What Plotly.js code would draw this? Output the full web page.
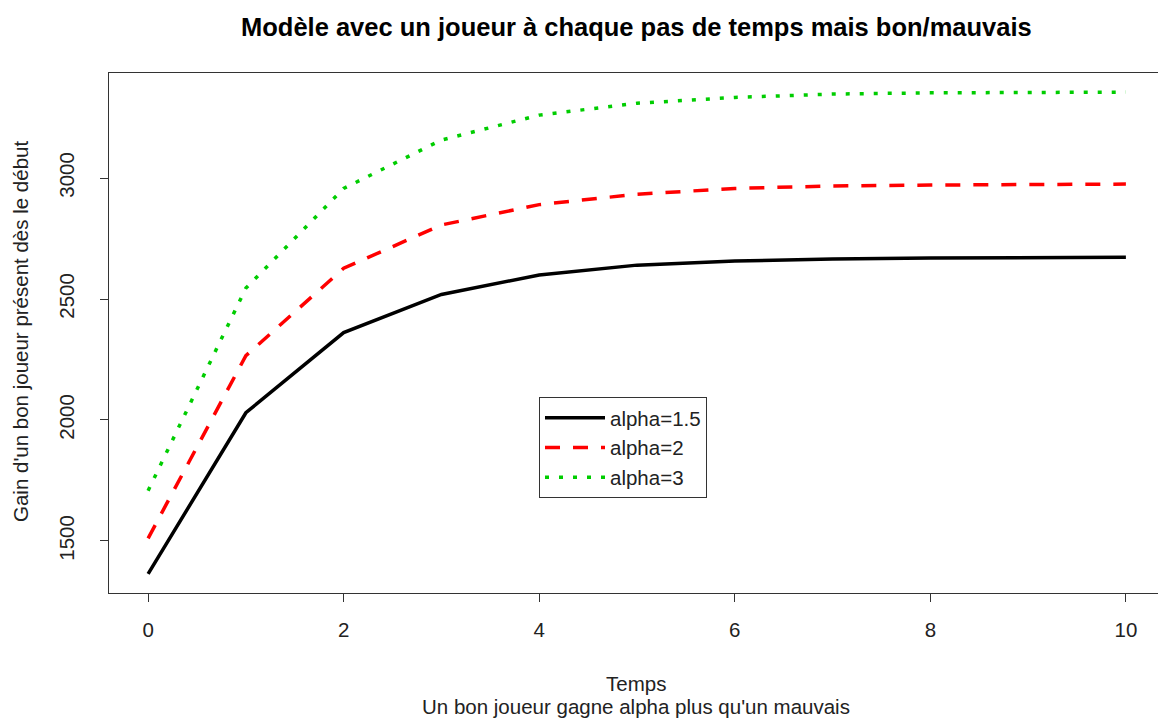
<!DOCTYPE html>
<html>
<head>
<meta charset="utf-8">
<script src="https://cdn.plot.ly/plotly-3.0.1.min.js"></script>
<style>
html, body { margin:0; padding:0; overflow:hidden; background:#fff; }
#chart { width:1170px; height:720px; }
</style>
</head>
<body>
<div id="chart"></div>
<script>
const temps = [0,1,2,3,4,5,6,7,8,9,10];
const alpha15 = [1364, 2030, 2361, 2519, 2599, 2640, 2657, 2665, 2669, 2672, 2673];
const alpha2  = [1511, 2266, 2627, 2806, 2890, 2933, 2957, 2967, 2971, 2974, 2975];
const alpha3  = [1708, 2545, 2957, 3157, 3260, 3309, 3333, 3347, 3352, 3354, 3355];
const seriesNames = ["alpha=1.5", "alpha=2", "alpha=3"];
const xTicks = [0, 2, 4, 6, 8, 10];
const yTicks = [1500, 2000, 2500, 3000];

const font = "Liberation Sans, Arial, Helvetica, sans-serif";
const fs = 20.5;

const traces = [
  {x: temps, y: alpha15, name: seriesNames[0], mode: "lines",
   line: {color: "#000000", width: 3.5, dash: "solid"}},
  {x: temps, y: alpha2, name: seriesNames[1], mode: "lines",
   line: {color: "#FF0000", width: 3.5, dash: "15px,13px"}},
  {x: temps, y: alpha3, name: seriesNames[2], mode: "lines",
   line: {color: "#00CD00", width: 3.5, dash: "4px,10px"}}
];

const layout = {
  width: 1170, height: 720,
  margin: {l: 109, r: 5, t: 73, b: 127},
  paper_bgcolor: "#ffffff", plot_bgcolor: "#ffffff",
  font: {family: font, size: fs, color: "#000"},
  showlegend: true,
  legend: {x: (539 - 109) / 1056, y: (593 - 397) / 520, xanchor: "left", yanchor: "top",
           bordercolor: "#333", borderwidth: 1, bgcolor: "#fff", itemwidth: 60,
           font: {family: font, size: fs, color: "#222"}, tracegroupgap: 0},
  xaxis: {range: [-0.4, 10.4], tickvals: xTicks, ticktext: xTicks.map(String),
          ticks: "outside", ticklen: 8, tickcolor: "#333", tickwidth: 1,
          showline: true, linecolor: "#333", linewidth: 1, mirror: true,
          showgrid: false, zeroline: false, ticklabelstandoff: 10,
          tickfont: {family: font, size: fs, color: "#222"}},
  yaxis: {range: [1285, 3434], tickvals: yTicks, ticktext: yTicks.map(String),
          ticks: "outside", ticklen: 8, tickcolor: "#333", tickwidth: 1,
          tickangle: -90, ticklabelstandoff: 18,
          showline: true, linecolor: "#333", linewidth: 1, mirror: true,
          showgrid: false, zeroline: false,
          tickfont: {family: font, size: fs, color: "#222"}},
  annotations: [
    {text: "<b>Modèle avec un joueur à chaque pas de temps mais bon/mauvais</b>",
     xref: "paper", yref: "paper", x: (636 - 109) / 1056, y: 1 + (73 - 27) / 520,
     xanchor: "center", yanchor: "middle", showarrow: false,
     font: {family: font, size: 25.5, color: "#000"}},
    {text: "Temps", xref: "paper", yref: "paper", x: (636 - 109) / 1056, y: -(683 - 593) / 520,
     xanchor: "center", yanchor: "middle", showarrow: false,
     font: {family: font, size: fs, color: "#222"}},
    {text: "Un bon joueur gagne alpha plus qu'un mauvais", xref: "paper", yref: "paper",
     x: (636 - 109) / 1056, y: -(706 - 593) / 520,
     xanchor: "center", yanchor: "middle", showarrow: false,
     font: {family: font, size: fs, color: "#222"}},
    {text: "Gain d'un bon joueur présent dès le début", xref: "paper", yref: "paper",
     x: -(109 - 20) / 1056, y: (593 - 332) / 520, textangle: -90,
     xanchor: "center", yanchor: "middle", showarrow: false,
     font: {family: font, size: fs, color: "#222"}}
  ]
};

Plotly.newPlot("chart", traces, layout, {displayModeBar: false, staticPlot: true});
</script>
</body>
</html>
